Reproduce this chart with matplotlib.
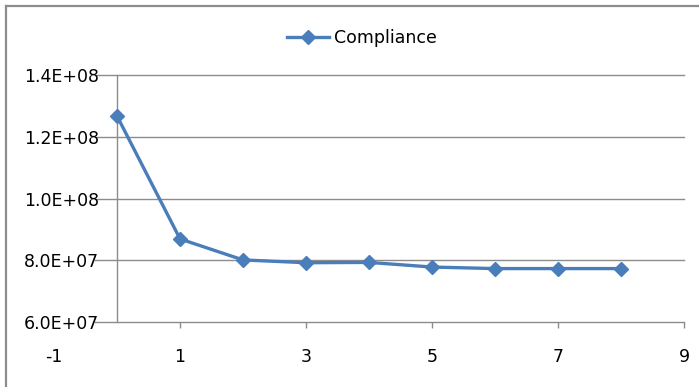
import matplotlib
matplotlib.use("Agg")
import matplotlib.pyplot as plt
from matplotlib.lines import Line2D

iterations = [0, 1, 2, 3, 4, 5, 6, 7, 8]
compliance = [1.267e8, 8.69e7, 8.01e7, 7.92e7, 7.93e7, 7.78e7, 7.73e7, 7.73e7, 7.73e7]
series_name = "Compliance"
x_ticks = [-1, 1, 3, 5, 7, 9]
y_ticks = [6e7, 8e7, 1e8, 1.2e8, 1.4e8]
y_labels = ["6.0E+07", "8.0E+07", "1.0E+08", "1.2E+08", "1.4E+08"]

plt.rcParams['font.family'] = ['DejaVu Sans']
line_color = "#4A7EBB"
grid_color = "#8C8C8C"
FS = 12.5

fig = plt.figure(figsize=(6.99, 3.87), dpi=100)
ax = fig.add_axes([95/699, 1-322/387, (684-95)/699, (322-75)/387])

XMIN = -0.35
ax.set_xlim(XMIN, 9)
ax.set_ylim(6e7, 1.4e8)

ax.plot(iterations, compliance, color=line_color, lw=2.4, marker='D', ms=7.5,
        markeredgecolor=line_color, markerfacecolor=line_color, zorder=5,
        label=series_name, clip_on=False)

# grid
for yv in y_ticks:
    ax.axhline(yv, color=grid_color, lw=1.0, zorder=1, clip_on=False)
ax.axvline(0, color=grid_color, lw=1.0, zorder=1, clip_on=False)

for s in ["left", "right", "top", "bottom"]:
    ax.spines[s].set_visible(False)

ax.set_yticks(y_ticks)
ax.set_yticklabels(y_labels, fontsize=FS)
ax.tick_params(axis='y', length=0, pad=-3)

vis_x = [t for t in x_ticks if t >= XMIN]
ax.set_xticks(vis_x)
ax.set_xticklabels([str(t) for t in vis_x], fontsize=FS)
ax.tick_params(axis='x', length=4, width=1, color=grid_color, pad=15, direction='out')
for t in x_ticks:
    if t < XMIN:
        ax.annotate(str(t), xy=(t, 0), xycoords=('data', 'axes fraction'),
                    xytext=(0, -19), textcoords='offset points',
                    fontsize=FS, ha='center', va='top', annotation_clip=False)

leg = ax.legend(loc='center', bbox_to_anchor=(362/699, 1-38/387), bbox_transform=fig.transFigure,
                frameon=False, fontsize=FS, handlelength=2.4, handletextpad=0.3)

# chart frame (Excel style)
fig.add_artist(Line2D([6/699, 1.0], [1-6/387, 1-6/387], transform=fig.transFigure, color="#8C8C8C", lw=1.6))
fig.add_artist(Line2D([6/699, 6/699], [0, 1-6/387], transform=fig.transFigure, color="#8C8C8C", lw=1.6))

fig.savefig("out.png", dpi=100)
